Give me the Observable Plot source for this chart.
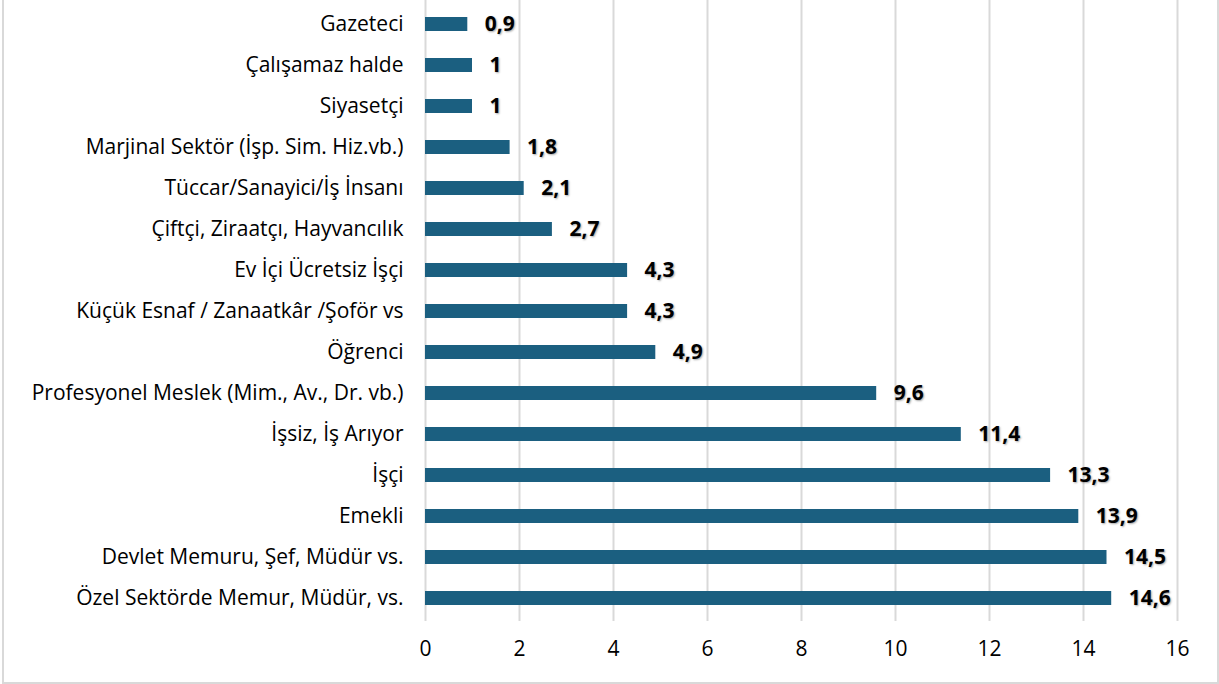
<!DOCTYPE html>
<html>
<head>
<meta charset="utf-8">
<script src="https://cdn.jsdelivr.net/npm/d3@7"></script>
<script src="https://cdn.jsdelivr.net/npm/@observablehq/plot@0.6"></script>
<style>
  body { margin: 0; background: #fff; }
  #wrap { position: relative; width: 1219px; height: 684px; overflow: hidden; }
  #border { position: absolute; left: 2px; top: -2px; width: 1213px; height: 682px; border: 2px solid #d9d9d9; pointer-events: none; }
  #wrap svg text { font-family: "Open Sans", Lato, sans-serif; }
  .vlab { text-shadow: 1px 1px 2px rgba(0,0,0,0.35); }
</style>
</head>
<body>
<div id="wrap"><div id="border"></div></div>
<script>
const categories = [
  "Gazeteci",
  "Çalışamaz halde",
  "Siyasetçi",
  "Marjinal Sektör (İşp. Sim. Hiz.vb.)",
  "Tüccar/Sanayici/İş İnsanı",
  "Çiftçi, Ziraatçı, Hayvancılık",
  "Ev İçi Ücretsiz İşçi",
  "Küçük Esnaf / Zanaatkâr /Şoför vs",
  "Öğrenci",
  "Profesyonel Meslek (Mim., Av., Dr. vb.)",
  "İşsiz, İş Arıyor",
  "İşçi",
  "Emekli",
  "Devlet Memuru, Şef, Müdür vs.",
  "Özel Sektörde Memur, Müdür, vs."
];
const values = [0.9, 1, 1, 1.8, 2.1, 2.7, 4.3, 4.3, 4.9, 9.6, 11.4, 13.3, 13.9, 14.5, 14.6];
const xTicks = [0, 2, 4, 6, 8, 10, 12, 14, 16];

const data = categories.map((c, i) => ({category: c, value: values[i]}));
const fmt = v => String(v).replace(".", ",");

const chart = Plot.plot({
  width: 1219,
  height: 684,
  marginLeft: 425,
  marginRight: 42,
  marginTop: 0,
  marginBottom: 63,
  style: {fontSize: "21px", color: "#000", background: "transparent"},
  x: {domain: [0, 16], ticks: xTicks, label: null},
  y: {domain: categories, paddingInner: 0.66, paddingOuter: 0.33, label: null},
  marks: [
    Plot.gridX(xTicks, {stroke: "#d9d9d9", strokeOpacity: 1, strokeWidth: 2}),
    Plot.axisX({ticks: xTicks, tickSize: 0, tickPadding: 20, label: null, fontSize: 21}),
    Plot.axisY({tickSize: 0, tickPadding: 22, label: null, fontSize: 21}),
    Plot.barX(data, {x: "value", y: "category", fill: "#1b5f80"}),
    Plot.text(data, {x: "value", y: "category", text: d => fmt(d.value), dx: 17, textAnchor: "start",
      fontWeight: "bold", fontSize: 21, fill: "#000", className: "vlab"})
  ]
});
document.getElementById("wrap").prepend(chart);
</script>
</body>
</html>
